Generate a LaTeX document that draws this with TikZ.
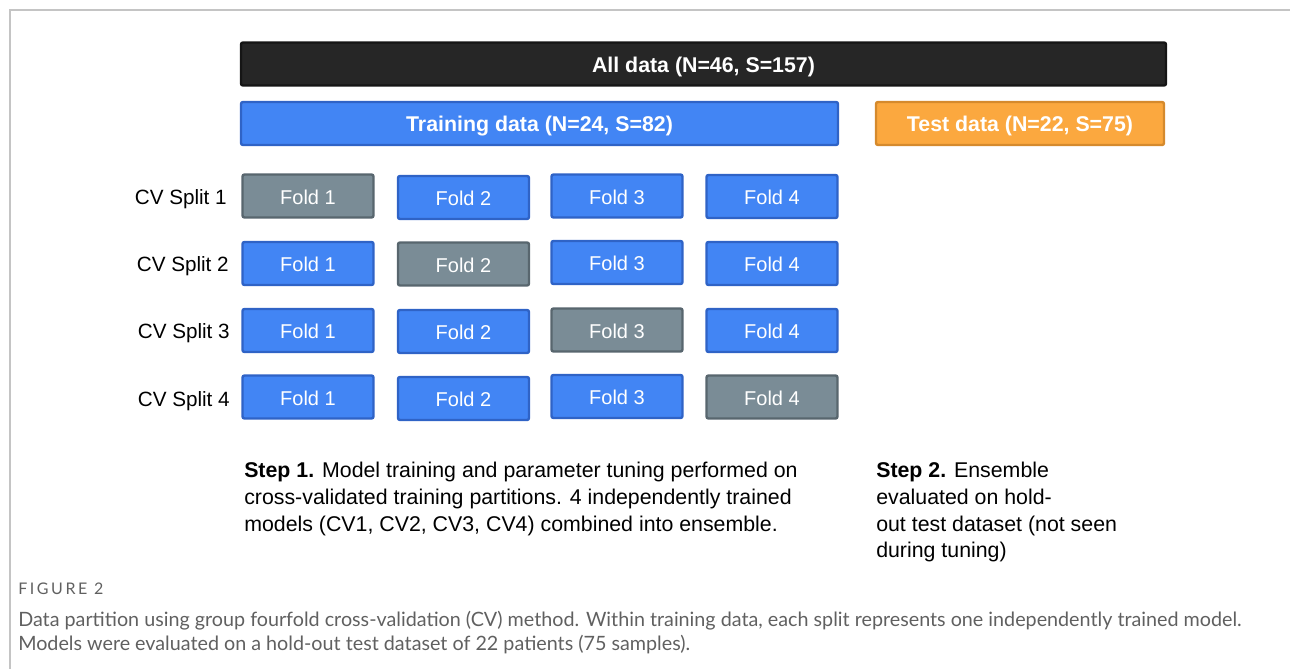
\documentclass[tikz,border=0pt]{standalone}
\usepackage{fontspec}
\setmainfont{Liberation Sans}
\newfontfamily\capfont{Lato}
\newfontfamily\capheadfont[LetterSpace=16]{Lato}

\definecolor{allfill}{HTML}{262626}
\definecolor{alledge}{HTML}{151515}
\definecolor{bluefill}{HTML}{4285F4}
\definecolor{blueedge}{HTML}{2F63C6}
\definecolor{grayfill}{HTML}{7A8C96}
\definecolor{grayedge}{HTML}{58666E}
\definecolor{orangefill}{HTML}{FBA83F}
\definecolor{orangeedge}{HTML}{D58A2D}
\definecolor{framegray}{HTML}{C4C4C4}
\definecolor{captext}{HTML}{606060}

\tikzset{
  bar/.style={rounded corners=1.5pt, line width=1.8pt, inner sep=0pt,
    minimum height=32.25pt, text=white, text height=1.25em, text depth=0pt,
    font=\fontsize{16pt}{19pt}\selectfont\bfseries},
  allbar/.style={bar, fill=allfill, draw=alledge, minimum width=693.75pt},
  trainbar/.style={bar, fill=bluefill, draw=blueedge, minimum width=447.75pt},
  testbar/.style={bar, fill=orangefill, draw=orangeedge, minimum width=216pt},
  fold/.style={rounded corners=1.5pt, line width=1.8pt, inner sep=0pt,
    minimum width=98.25pt, minimum height=32.25pt, text=white,
    text height=1.2em, text depth=0pt,
    font=\fontsize{15pt}{18pt}\selectfont},
  trainfold/.style={fold, fill=bluefill, draw=blueedge},
  heldfold/.style={fold, fill=grayfill, draw=grayedge},
  splitlabel/.style={anchor=east, inner sep=0pt, text height=1em, text depth=0pt,
    font=\fontsize{15.5pt}{18pt}\selectfont},
  steptext/.style={anchor=north west, inner sep=0pt, align=left,
    font=\fontsize{16pt}{20pt}\selectfont},
  captionhead/.style={anchor=west, inner sep=0pt, text=captext,
    font=\capheadfont\fontsize{12pt}{14pt}\selectfont},
  captionbody/.style={anchor=north west, inner sep=0pt, align=left, text=captext,
    font=\capfont\fontsize{14.8pt}{18pt}\selectfont},
}

\begin{document}
\begin{tikzpicture}[x=0.75pt, y=-0.75pt]
\useasboundingbox (0,0) rectangle (1290,669);

% frame lines of the figure panel
\coordinate (frameTR) at (1290,10);
\coordinate (frameTL) at (10,10);
\coordinate (frameBL) at (10,669);
\draw[framegray, line width=1.5pt] (frameTR) -- (frameTL) -- (frameBL);

% data partitions
\node[allbar]   (all)   at (703.5,64)   {All data (N=46, S=157)};
\node[trainbar] (train) at (539.5,123.5) {Training data (N=24, S=82)};
\node[testbar]  (test)  at (1020,123.5) {Test data (N=22, S=75)};

% cross-validation splits
\node[splitlabel] (s1) at (227,198) {CV Split 1};
\node[splitlabel] (s2) at (229,265) {CV Split 2};
\node[splitlabel] (s3) at (230,332) {CV Split 3};
\node[splitlabel] (s4) at (230,399.5) {CV Split 4};

\node[heldfold]  (f11) at (308,196)     {Fold 1};
\node[trainfold] (f12) at (463.5,197.5) {Fold 2};
\node[trainfold] (f13) at (617,196)     {Fold 3};
\node[trainfold] (f14) at (772,196.5)   {Fold 4};

\node[trainfold] (f21) at (308,263.5)   {Fold 1};
\node[heldfold]  (f22) at (463.5,264)   {Fold 2};
\node[trainfold] (f23) at (617,262.5)   {Fold 3};
\node[trainfold] (f24) at (772,263.5)   {Fold 4};

\node[trainfold] (f31) at (308,330.5)   {Fold 1};
\node[trainfold] (f32) at (463.5,331.5) {Fold 2};
\node[heldfold]  (f33) at (617,330)     {Fold 3};
\node[trainfold] (f34) at (772,330.5)   {Fold 4};

\node[trainfold] (f41) at (308,397)     {Fold 1};
\node[trainfold] (f42) at (463.5,398.5) {Fold 2};
\node[trainfold] (f43) at (617,396.5)   {Fold 3};
\node[heldfold]  (f44) at (772,397)     {Fold 4};

% step descriptions
\node[steptext] (step1) at (244,462) {\textbf{Step 1.} Model training and parameter tuning performed on\\
cross-validated training partitions. 4 independently trained\\
models (CV1, CV2, CV3, CV4) combined into ensemble.};
\node[steptext] (step2) at (876,462) {\textbf{Step 2.} Ensemble\\
evaluated on hold-\\
out test dataset (not seen\\
during tuning)};

% figure caption
\node[captionhead] (fighead) at (18,589) {FIGURE 2};
\node[captionbody] (figcap) at (18,611) {Data partition using group fourfold cross-validation (CV) method. Within training data, each split represents one independently trained model.\\
Models were evaluated on a hold-out test dataset of 22 patients (75 samples).};
\end{tikzpicture}
\end{document}
